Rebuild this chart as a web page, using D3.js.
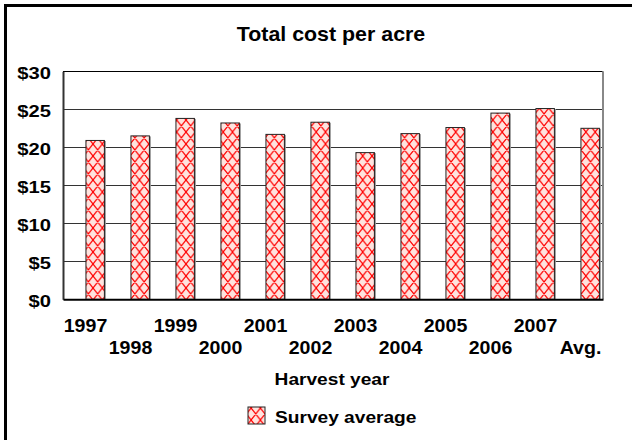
<!DOCTYPE html>
<html>
<head>
<meta charset="utf-8">
<script src="https://cdn.jsdelivr.net/npm/d3@7"></script>
<style>
  html, body { margin: 0; padding: 0; background: #fff; }
  svg { display: block; }
  text { font-family: "Liberation Sans", Arial, sans-serif; font-weight: bold; fill: #000; }
</style>
</head>
<body>
<svg id="chart" width="632" height="440"></svg>
<script>
// Harvest years and the average total cost per acre (US$)
const years = ["1997", "1998", "1999", "2000", "2001", "2002", "2003", "2004", "2005", "2006", "2007", "Avg."];
const costs = [20.9, 21.5, 23.8, 23.2, 21.7, 23.3, 19.3, 21.8, 22.6, 24.5, 25.1, 22.5];
const yTicks = [0, 5, 10, 15, 20, 25, 30];
const seriesName = "Survey average";
const chartTitle = "Total cost per acre";
const xTitle = "Harvest year";

const svg = d3.select("#chart");
const plot = { left: 63, right: 603, top: 71.3, bottom: 299.3 };

// Outer frame
svg.append("path")
  .attr("d", "M5.5,460V5.5H660")
  .attr("fill", "none").attr("stroke", "#000").attr("stroke-width", 3);

// Crosshatch fill for the bars
const W = 9.3, H = 12;
const defs = svg.append("defs");
const pat = defs.append("pattern")
  .attr("id", "xhatch").attr("patternUnits", "userSpaceOnUse")
  .attr("width", W).attr("height", H);
pat.append("rect").attr("width", W).attr("height", H).attr("fill", "#ffe3de");
let d = "";
for (const dx of [-W, 0, W]) {
  d += `M${dx},0L${dx + W},${H}M${dx + W},0L${dx},${H}`;
}
pat.append("path").attr("d", d).attr("stroke", "#ff0000").attr("stroke-width", 1.2).attr("fill", "none");

const x = d3.scaleBand().domain(years).range([plot.left, plot.right]).padding(0);
const y = d3.scaleLinear().domain([0, 30]).range([plot.bottom, plot.top]);

// Gridlines
svg.append("g").selectAll("line")
  .data(yTicks.filter(v => v > 0 && v < 30))
  .join("line")
  .attr("x1", plot.left).attr("x2", plot.right)
  .attr("y1", v => Math.round(y(v)) + 0.5).attr("y2", v => Math.round(y(v)) + 0.5)
  .attr("stroke", "#333").attr("stroke-width", 1);

// Plot frame: top and right
svg.append("line")
  .attr("x1", plot.left).attr("x2", plot.right)
  .attr("y1", Math.round(y(30)) + 0.5).attr("y2", Math.round(y(30)) + 0.5)
  .attr("stroke", "#000").attr("stroke-width", 1);
svg.append("line")
  .attr("x1", plot.right).attr("x2", plot.right)
  .attr("y1", y(30)).attr("y2", y(0))
  .attr("stroke", "#888").attr("stroke-width", 2);

// Bars, each with a faint grey shadow on its right edge
const bw = x.bandwidth();
const barData = years.map((k, i) => ({ k, v: costs[i] }));
svg.append("g").selectAll("rect")
  .data(barData)
  .join("rect")
  .attr("x", d => x(d.k) + bw * 0.51 + 1.5)
  .attr("y", d => y(d.v) + 0.5)
  .attr("width", bw * 0.41)
  .attr("height", d => y(0) - y(d.v))
  .attr("fill", "#999");
svg.append("g").selectAll("rect")
  .data(barData)
  .join("rect")
  .attr("x", d => x(d.k) + bw * 0.51)
  .attr("y", d => y(d.v))
  .attr("width", bw * 0.41)
  .attr("height", d => y(0) - y(d.v))
  .attr("fill", "url(#xhatch)")
  .attr("stroke", "#222").attr("stroke-width", 1);

// Y axis
const yAxis = svg.append("g")
  .attr("transform", `translate(${plot.left},0)`)
  .call(d3.axisLeft(y).tickValues(yTicks).tickSize(0).tickFormat(v => "$" + v));
yAxis.select(".domain").attr("stroke", "#333").attr("stroke-width", 2);
yAxis.selectAll(".tick text")
  .attr("x", 0).attr("dy", null).attr("y", 7)
  .attr("transform", "translate(-12,0) scale(1.2,1)")
  .style("font-size", "16.8px").style("font-family", "Liberation Sans, Arial, sans-serif")
  .style("font-weight", "bold").attr("fill", "#000");

// X axis with staggered labels
const xAxis = svg.append("g")
  .attr("transform", `translate(0,${plot.bottom})`)
  .call(d3.axisBottom(x).tickSize(0));
xAxis.select(".domain").attr("stroke", "#000").attr("stroke-width", 2);
xAxis.selectAll(".tick text")
  .attr("dy", null)
  .attr("y", (d, i) => (i % 2 === 0 ? 32.4 : 55))
  .attr("transform", "scale(1.1,1)")
  .style("font-size", "17.8px").style("font-family", "Liberation Sans, Arial, sans-serif")
  .style("font-weight", "bold").attr("fill", "#000");

// Title
svg.append("text")
  .attr("transform", "translate(331,40.7) scale(1.08,1)")
  .attr("text-anchor", "middle").style("font-size", "19.8px")
  .text(chartTitle);

// Axis title
svg.append("text")
  .attr("transform", "translate(332,384.5) scale(1.1,1)")
  .attr("text-anchor", "middle").style("font-size", "17.4px")
  .text(xTitle);

// Legend
const lg = svg.append("g");
lg.append("rect")
  .attr("x", 248).attr("y", 407).attr("width", 17).attr("height", 17)
  .attr("fill", "url(#xhatch)").attr("stroke", "#222").attr("stroke-width", 1);
lg.append("text")
  .attr("transform", "translate(275,423) scale(1.1,1)")
  .style("font-size", "17.4px")
  .text(seriesName);
</script>
</body>
</html>
